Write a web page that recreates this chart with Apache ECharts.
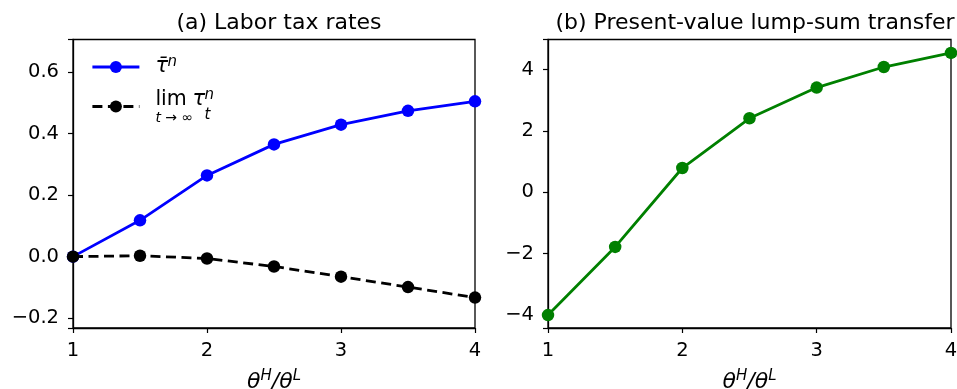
<!DOCTYPE html>
<html>
<head>
<meta charset="utf-8">
<script src="https://cdn.jsdelivr.net/npm/echarts@6/dist/echarts.min.js"></script>
<style>
  html, body { margin: 0; padding: 0; background: #fff; }
  #chart { width: 957px; height: 389px; }
</style>
</head>
<body>
<div id="chart"></div>
<script>
// data
const xVals = [1, 1.5, 2, 2.5, 3, 3.5, 4]
const tauBar = [0.0, 0.118, 0.264, 0.365, 0.429, 0.474, 0.505]
const tauLim = [0.0, 0.003, -0.006, -0.032, -0.065, -0.099, -0.133]
const transfer = [-4.0, -1.78, 0.79, 2.41, 3.41, 4.08, 4.54]
const xTicks = [1, 2, 3, 4]

const FONT = 'DejaVu Sans'
const TICK_SIZE = 19.5
const LINE_W = 2.8
const pairs = (ys) => xVals.map((x, i) => [x, ys[i]])
const minus = (s) => String(s).replace('-', '\u2212')

// only label the "nice" ticks, not the padded min / max
function tickFmt (step, digits) {
  return function (v) {
    const k = v / step
    if (Math.abs(k - Math.round(k)) > 1e-6) return ''
    return minus((Math.round(k) * step).toFixed(digits))
  }
}

function xAxis (idx) {
  return {
    type: 'value',
    gridIndex: idx,
    min: xTicks[0],
    max: xTicks[xTicks.length - 1],
    interval: 1,
    splitLine: { show: false },
    axisLine: { onZero: false, lineStyle: { color: '#000', width: 1.3 } },
    axisTick: { inside: false, length: 5, lineStyle: { color: '#000', width: 1.2 } },
    axisLabel: { color: '#000', fontFamily: FONT, fontSize: TICK_SIZE, margin: 13 },
    name: '{i|θ}{s|H}{i|/θ}{s|L}',
    nameLocation: 'middle',
    nameGap: 41,
    nameTextStyle: {
      rich: {
        i: { fontFamily: FONT, fontStyle: 'italic', fontSize: 22, color: '#000', lineHeight: 26 },
        s: { fontFamily: FONT, fontStyle: 'italic', fontSize: 15, color: '#000', verticalAlign: 'top', lineHeight: 16 }
      }
    }
  }
}

function yAxis (idx, min, max, step, digits) {
  return {
    type: 'value',
    gridIndex: idx,
    min: min,
    max: max,
    splitLine: { show: false },
    axisLine: { show: true, onZero: false, lineStyle: { color: '#000', width: 1.3 } },
    axisTick: { show: true, inside: false, length: 5, lineStyle: { color: '#000', width: 1.2 } },
    axisLabel: { color: '#000', fontFamily: FONT, fontSize: TICK_SIZE, margin: 14, formatter: tickFmt(step, digits) }
  }
}

const chart = echarts.init(document.getElementById('chart'), null, { renderer: 'canvas' })

const gridBase = { top: 39.5, bottom: 61, show: true, borderColor: '#000', borderWidth: 1.3, backgroundColor: 'transparent', outerBoundsMode: 'none', containLabel: false }

const option = {
  backgroundColor: '#fff',
  animation: false,
  title: [
    { text: '(a) Labor tax rates', left: 274, top: 7, textAlign: 'center',
      textStyle: { fontFamily: FONT, fontSize: 22, fontWeight: 'normal', color: '#000' } },
    { text: '(b) Present-value lump-sum transfer', left: 750, top: 7, textAlign: 'center',
      textStyle: { fontFamily: FONT, fontSize: 22, fontWeight: 'normal', color: '#000' } }
  ],
  grid: [
    Object.assign({ left: 73, right: 482 }, gridBase),
    Object.assign({ left: 548, right: 6 }, gridBase)
  ],
  legend: {
    orient: 'vertical',
    left: 91,
    top: 55,
    padding: 0,
    itemWidth: 47,
    itemHeight: 15,
    itemGap: 10,
    data: ['tauBar', 'tauLim'],
    lineStyle: { width: LINE_W },
    formatter: function (name) {
      if (name === 'tauBar') return '{t|τ̄}{sup|n}'
      return '{lim|lim}{t|τ}{sup|n}\n{sub|t → ∞}{subt|t}'
    },
    textStyle: {
      fontFamily: FONT,
      color: '#000',
      padding: [0, 0, 0, 11],
      rich: {
        t: { fontFamily: FONT, fontStyle: 'italic', fontSize: 21, color: '#000', width: 12, lineHeight: 24 },
        sup: { fontFamily: FONT, fontStyle: 'italic', fontSize: 15, color: '#000', verticalAlign: 'top', lineHeight: 14 },
        lim: { fontFamily: FONT, fontSize: 20.5, color: '#000', width: 37, lineHeight: 24 },
        sub: { fontFamily: FONT, fontStyle: 'italic', fontSize: 14, color: '#000', width: 37, lineHeight: 14 },
        subt: { fontFamily: FONT, fontStyle: 'italic', fontSize: 15, color: '#000', padding: [0, 0, 6, 12], lineHeight: 14 }
      }
    }
  },
  xAxis: [xAxis(0), xAxis(1)],
  yAxis: [
    yAxis(0, -0.232, 0.706, 0.2, 1),
    yAxis(1, -4.42, 4.976, 2, 0)
  ],
  series: [
    {
      name: 'tauBar', type: 'line', xAxisIndex: 0, yAxisIndex: 0,
      data: pairs(tauBar),
      symbol: 'circle', symbolSize: 12.5,
      lineStyle: { color: '#0000ff', width: LINE_W },
      itemStyle: { color: '#0000ff' }
    },
    {
      name: 'tauLim', type: 'line', xAxisIndex: 0, yAxisIndex: 0,
      data: pairs(tauLim),
      symbol: 'circle', symbolSize: 12.5,
      lineStyle: { color: '#000', width: LINE_W, type: [10, 5.5] },
      itemStyle: { color: '#000' }
    },
    {
      name: 'transfer', type: 'line', xAxisIndex: 1, yAxisIndex: 1,
      data: pairs(transfer),
      symbol: 'circle', symbolSize: 12.5,
      lineStyle: { color: '#008000', width: LINE_W },
      itemStyle: { color: '#008000' }
    }
  ]
}

chart.setOption(option)
</script>
</body>
</html>
